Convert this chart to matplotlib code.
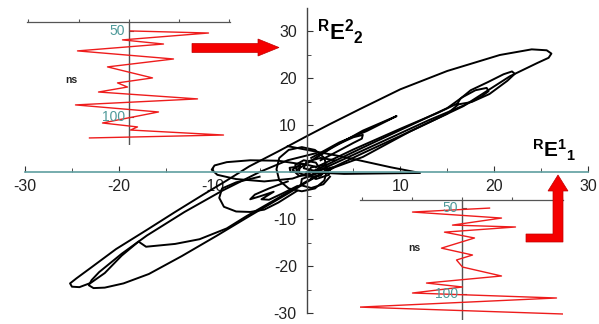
# Phase portrait RE1_1 vs RE2_2 with two time-signal insets.
import matplotlib
matplotlib.use("Agg")
import matplotlib.pyplot as plt
from matplotlib.patches import Polygon
import numpy as np

plt.rcParams['font.family'] = ['Liberation Sans', 'DejaVu Sans']
plt.rcParams['axes.unicode_minus'] = False
plt.rcParams['mathtext.fontset'] = 'custom'
plt.rcParams['mathtext.rm'] = 'Liberation Sans'
plt.rcParams['mathtext.bf'] = 'Liberation Sans:bold'

# trajectory pieces (RE1_1, RE2_2)
loop_big = [(0.5, -1.5), (3, 1), (6, 3.2), (11, 8.6), (16.7, 14), (21.7, 20.4), (24.6, 23.2),
            (25.8, 24.3), (26.1, 25.2), (25.6, 25.9), (24, 26.1), (20.6, 24.9), (15, 21.5),
            (10, 17.6), (5.7, 13.4), (2.5, 10.2), (0, 7.6), (-3, 4.4), (-6.1, 1.2),
            (-8.5, -1.8), (-11, -4.8), (-14, -8.5), (-17, -12.3), (-20.3, -16.4),
            (-23, -20.4), (-24.5, -22.6), (-25.2, -23.7), (-25.0, -24.4), (-24.2, -24.5),
            (-23, -23.6), (-21.5, -21.5), (-19.7, -17.8), (-17.9, -14.8), (-17.1, -15.9),
            (-14, -15.3), (-11.4, -14.3), (-8.5, -12), (-6.4, -9.4), (-3, -5.5), (0, -2),
            (2.5, 0.5)]
lobe_low = [(1, -1), (-2, -4.6), (-6.1, -9.4), (-9.6, -13.6), (-13.3, -17.9), (-16.8, -21.7),
            (-19.5, -23.7), (-21.5, -24.6), (-22.7, -24.7), (-23.2, -24.1), (-22.9, -23),
            (-22.1, -21.3), (-19.7, -17.4), (-17, -13.5), (-13, -8.5), (-9, -4), (-5, 0),
            (-2, 2.5), (1, 4)]
loop_mid = [(1, 1), (5, 4.8), (10, 9.2), (14, 12.6), (16.1, 14.6), (16.4, 15.6), (17.5, 17.4),
            (19.3, 19.1), (21, 20.8), (21.9, 21.4), (22.2, 20.9), (21.4, 19.4), (19.5, 16.6),
            (17.6, 14.9), (16.2, 14.4), (15, 12.4), (11, 8.6), (6, 4), (2, 0.2)]
loop_mid2 = [(0, -0.5), (6, 5.2), (12, 10.8), (15, 13.6), (16.6, 15.9), (18, 17.4),
             (19.2, 17.9), (19.4, 17.2), (18.6, 16), (16.8, 14.2), (13, 11), (7, 5.5), (1, 0)]
spike = [(-1, 0.5), (2.5, 4.9), (6, 8.8), (9.6, 11.9), (6.4, 8.7), (3.5, 6.3), (0.5, 3)]
loop_small = [(1, 3), (3, 5.6), (5, 7.4), (6, 7.9), (5.9, 7.1), (5, 6.2), (3.5, 4.6), (1.5, 2.5)]
ring = [(2.2, 0.6), (1.9, 3.0), (0.9, 4.7), (-0.5, 5.3), (-1.9, 4.7), (-2.9, 3.0), (-3.2, 0.6),
        (-2.9, -1.8), (-1.9, -3.5), (-0.5, -4.1), (0.9, -3.5), (1.9, -1.8), (2.2, 0.6)]
flat = [(0, 1.5), (-3, 2.4), (-6, 2.5), (-8.5, 2.1), (-9.8, 1.4), (-10.1, 0.5), (-9.5, -0.6),
        (-7.5, -1.5), (-4.5, -2.0), (-1.5, -1.4), (0.5, 0)]
loop_low = [(-5, -1), (-7.5, -2.2), (-9, -3.5), (-9.3, -5.5), (-8.8, -7.4), (-7.5, -8.4),
            (-6, -8.5), (-4.5, -8), (-3, -6.5), (-1, -4)]
hand = [(-2, -2), (-4, -3.5), (-5.5, -4.8), (-6, -5.8), (-5, -5.2), (-3.5, -4.2), (-4.8, -5.8),
        (-4, -5.9), (-2.5, -4.5), (-1, -3)]
wedge = [(-2, 5.5), (4, 3.2), (9, 1), (12.1, -0.2), (8, -0.3), (4, -0.4), (0, 0)]
core1 = [(1.5, 0.5), (1, 2), (-0.3, 2.5), (-1.2, 1.5), (-1, 0), (0.2, -1), (1.5, -0.8), (2, 0.3)]
core2 = [(2.5, -1), (1.8, -2.6), (0.5, -3.4), (-0.6, -2.8), (-0.5, -1.5), (0.8, -0.5), (2.2, 0.2)]
core3 = [(0.8, 1.2), (-0.5, 1.8), (-1.5, 0.5), (-0.8, -0.8), (0.6, -0.6), (1.2, 0.6)]
core4 = [(3, 2.5), (1.5, 3), (0, 2.2), (-0.3, 0.8), (1, 0.2), (2.8, 1)]
core5 = [(-0.7, 1.2), (-1.8, 0.9), (-1.7, 0), (-0.8, 0.1), (-0.7, 1.2)]
core6 = [(2, 1.5), (0.5, 1), (0, -0.5), (1, -1.5), (2.4, -0.6), (2, 1.5)]

# inset signals: amplitude (arb.) and time (ns)
sig1_amp = [0.08, 3.2, -0.24, 1.4, -2.04, 1.8, -0.84, 0.96, -0.44, -0.04, -1.2, 2.76, -2.12,
            1.2, -1.04, 0.36, 0.08, 3.8, -1.56]
sig1_t = [50, 51.2, 55.2, 57.6, 61.6, 66.3, 70.9, 77.3, 80.2, 82.6, 85.5, 89.5, 93, 97.1,
          103.5, 105.8, 107.6, 110.5, 112.2]
sig2_amp = [1.12, -1.96, 1.6, -0.36, 2.16, -0.68, 0.52, -0.8, 0.44, -0.2, 0.04, 1.6, -1.4,
            0.04, -1.96, 3.8, -4.08, 4.04]
sig2_t = [50, 52.3, 55.8, 59.9, 61, 64, 67.4, 73.3, 77.3, 80.2, 84.3, 89.5, 93.6, 95.9,
          99.4, 102.3, 107.6, 111.6]

W, H = 599, 324
fig = plt.figure(figsize=(W / 100, H / 100), dpi=100)

def fx(px):
    return px / W

def fy(py):
    return 1 - py / H

teal = '#5f9ea0'
ax = fig.add_axes([fx(25), fy(313), fx(588) - fx(25), fy(8) - fy(313)])
ax.set_xlim(-30, 30)
ax.set_ylim(-30, 34.9)
for name in ['top', 'right']:
    ax.spines[name].set_visible(False)
ax.spines['left'].set_position(('data', 0))
ax.spines['bottom'].set_position(('data', 0))
ax.spines['bottom'].set_color(teal)
ax.spines['bottom'].set_linewidth(1.2)
ax.spines['left'].set_color('#444444')
ax.spines['left'].set_linewidth(1.0)
ax.patch.set_alpha(0)

ticks = [-30, -20, -10, 0, 10, 20, 30]
labels = ['-30', '-20', '-10', '', '10', '20', '30']
ax.set_xticks(ticks, labels)
ax.set_yticks(ticks, labels)
ax.set_xticks([-25, -15, -5, 5, 15, 25], minor=True)
ax.set_yticks([-25, -15, -5, 5, 15, 25], minor=True)
ax.tick_params(which='both', direction='in', color='#333333', labelcolor='#222222',
               labelsize=11.5)
ax.tick_params(which='major', length=4)
ax.tick_params(which='minor', length=3)
ax.tick_params(axis='x', pad=5)
ax.tick_params(axis='y', pad=7)

for seg in [loop_big, lobe_low, loop_mid, loop_mid2, spike, loop_small, ring, flat,
            loop_low, hand, wedge, core1, core2, core3, core4, core5, core6]:
    arr = np.array(seg)
    ax.plot(arr[:, 0], arr[:, 1], color='black', lw=1.4, solid_joinstyle='round')

ax.text(1.1, 29.8, r'$\mathbf{^{R}E^{2}{}_{2}}$', fontsize=16, ha='left', va='center')
ax.text(24.0, 4.6, r'$\mathbf{^{R}E^{1}{}_{1}}$', fontsize=15, ha='left', va='center')

red = '#ee1c1c'

def inset(px0, py0, px1, py1, amp, t, t_top, t_bot, ns_pos):
    ia = fig.add_axes([fx(px0), fy(py1), fx(px1) - fx(px0), fy(py0) - fy(py1)])
    ia.patch.set_alpha(0)
    ia.set_xlim(-4.06, 4.06)
    ia.set_ylim(t_bot, t_top)
    for name in ['bottom', 'left', 'right']:
        ia.spines[name].set_visible(False)
    ia.spines['top'].set_color('#555555')
    ia.spines['top'].set_linewidth(0.9)
    ia.xaxis.tick_top()
    ia.set_xticks([-4, -2, 0, 2, 4], [''] * 5)
    ia.tick_params(axis='x', direction='out', length=2.5, color='#555555')
    ia.set_yticks([])
    ia.axvline(0, color='#555555', lw=1.0)
    for tv in [50, 100]:
        ia.plot([0, 0.18], [tv, tv], color='#555555', lw=0.8)
        ia.text(-0.15, tv, str(tv), color='#4f9a9a', fontsize=10, ha='right', va='center')
    ia.plot(amp, t, color=red, lw=1.0)
    ia.text(ns_pos[0], ns_pos[1], 'ns', fontsize=7.5, fontweight='bold', ha='center',
            va='center', color='#222222')
    return ia

inset(27, 22, 230, 145, sig1_amp, sig1_t, 44.8, 116.3, (-2.3, 78.5))
inset(360, 200, 563, 320, sig2_amp, sig2_t, 45.3, 115.1, (-1.9, 73.2))

# red arrows (figure pixel layout)
arrow_right = [(192, 43.5), (258, 43.5), (258, 39), (279, 47.5), (258, 56), (258, 52.5),
               (192, 52.5)]
arrow_up = [(526, 234), (553, 234), (553, 191), (548, 191), (558, 175), (568, 191),
            (563, 191), (563, 242), (526, 242)]
for shape in [arrow_right, arrow_up]:
    verts = [(fx(a), fy(b)) for a, b in shape]
    fig.add_artist(Polygon(verts, closed=True, transform=fig.transFigure,
                           facecolor='#f50000', edgecolor='#c00000', lw=0.5))

fig.savefig('out.png', dpi=100)
